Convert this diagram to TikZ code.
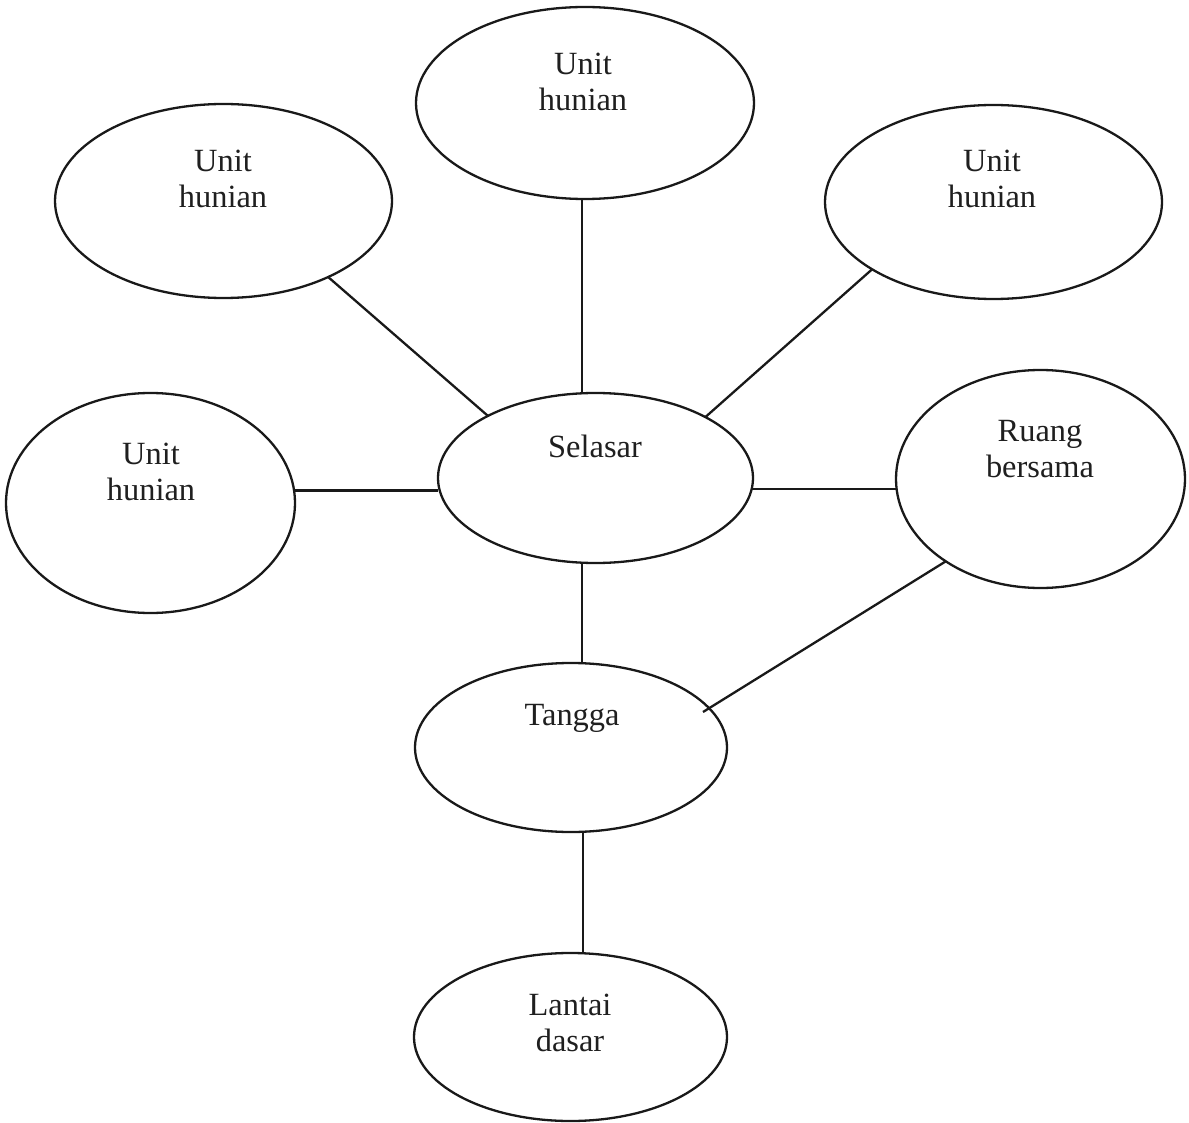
\documentclass[tikz,border=0pt]{standalone}
\usepackage{fontspec}
\setmainfont{Liberation Serif}
\usetikzlibrary{shapes.geometric}
\tikzset{
  bub/.style={draw=black!90, line width=1.15pt, ellipse, inner sep=0pt, outer sep=0pt},
  lbl/.style={align=center, anchor=base, inner sep=0pt, text=black!88,
              font=\fontsize{16.2pt}{18pt}\selectfont},
  link/.style={draw=black!90, line width=1.15pt}
}
\begin{document}
\begin{tikzpicture}[x=0.5pt, y=-0.5pt]
\useasboundingbox (0,0) rectangle (1189,1123);
% ellipses
\node[bub, minimum width=169pt, minimum height=96pt] (tc) at (585,103) {};
\node[bub, minimum width=168.5pt, minimum height=97pt] (tl) at (223.5,201) {};
\node[bub, minimum width=168.5pt, minimum height=97pt] (tr) at (993.5,202) {};
\node[bub, minimum width=144.5pt, minimum height=110pt] (lf) at (150.5,503) {};
\node[bub, minimum width=157.5pt, minimum height=85pt] (sel) at (595.5,478) {};
\node[bub, minimum width=144.5pt, minimum height=109pt] (ru) at (1040.5,479) {};
\node[bub, minimum width=156pt, minimum height=84.5pt] (ta) at (571,747.5) {};
\node[bub, minimum width=156.5pt, minimum height=84pt] (la) at (570.5,1037) {};
% labels (base = baseline of the last line)
\node[lbl] (tct) at (583,111) {Unit\\hunian};
\node[lbl] (tlt) at (223,208) {Unit\\hunian};
\node[lbl] (trt) at (992,208) {Unit\\hunian};
\node[lbl] (lft) at (151,500) {Unit\\hunian};
\node[lbl] (selt) at (595,457) {Selasar};
\node[lbl] (rut) at (1040,477) {Ruang\\bersama};
\node[lbl] (tat) at (572,725) {Tangga};
\node[lbl] (lat) at (570,1051) {Lantai\\dasar};
% connectors
\coordinate (tain) at (703,712);
\draw[link] (tc.268.8) -- (tc.268.8 |- sel.north);
\draw[link] (tl.-36.6) -- (sel.150.7);
\draw[link] (tr.209.6) -- (sel.29.3);
\draw[link] (lf.5.2) -- (lf.5.2 -| sel.west);
\draw[link] (sel.-4.8) -- (sel.-4.8 -| ru.west);
\draw[link] (sel.261.6) -- (sel.261.6 |- ta.north);
\draw[link] (ru.221.7) -- (tain);
\draw[link] (ta.278) -- (ta.278 |- la.north);
\end{tikzpicture}
\end{document}
